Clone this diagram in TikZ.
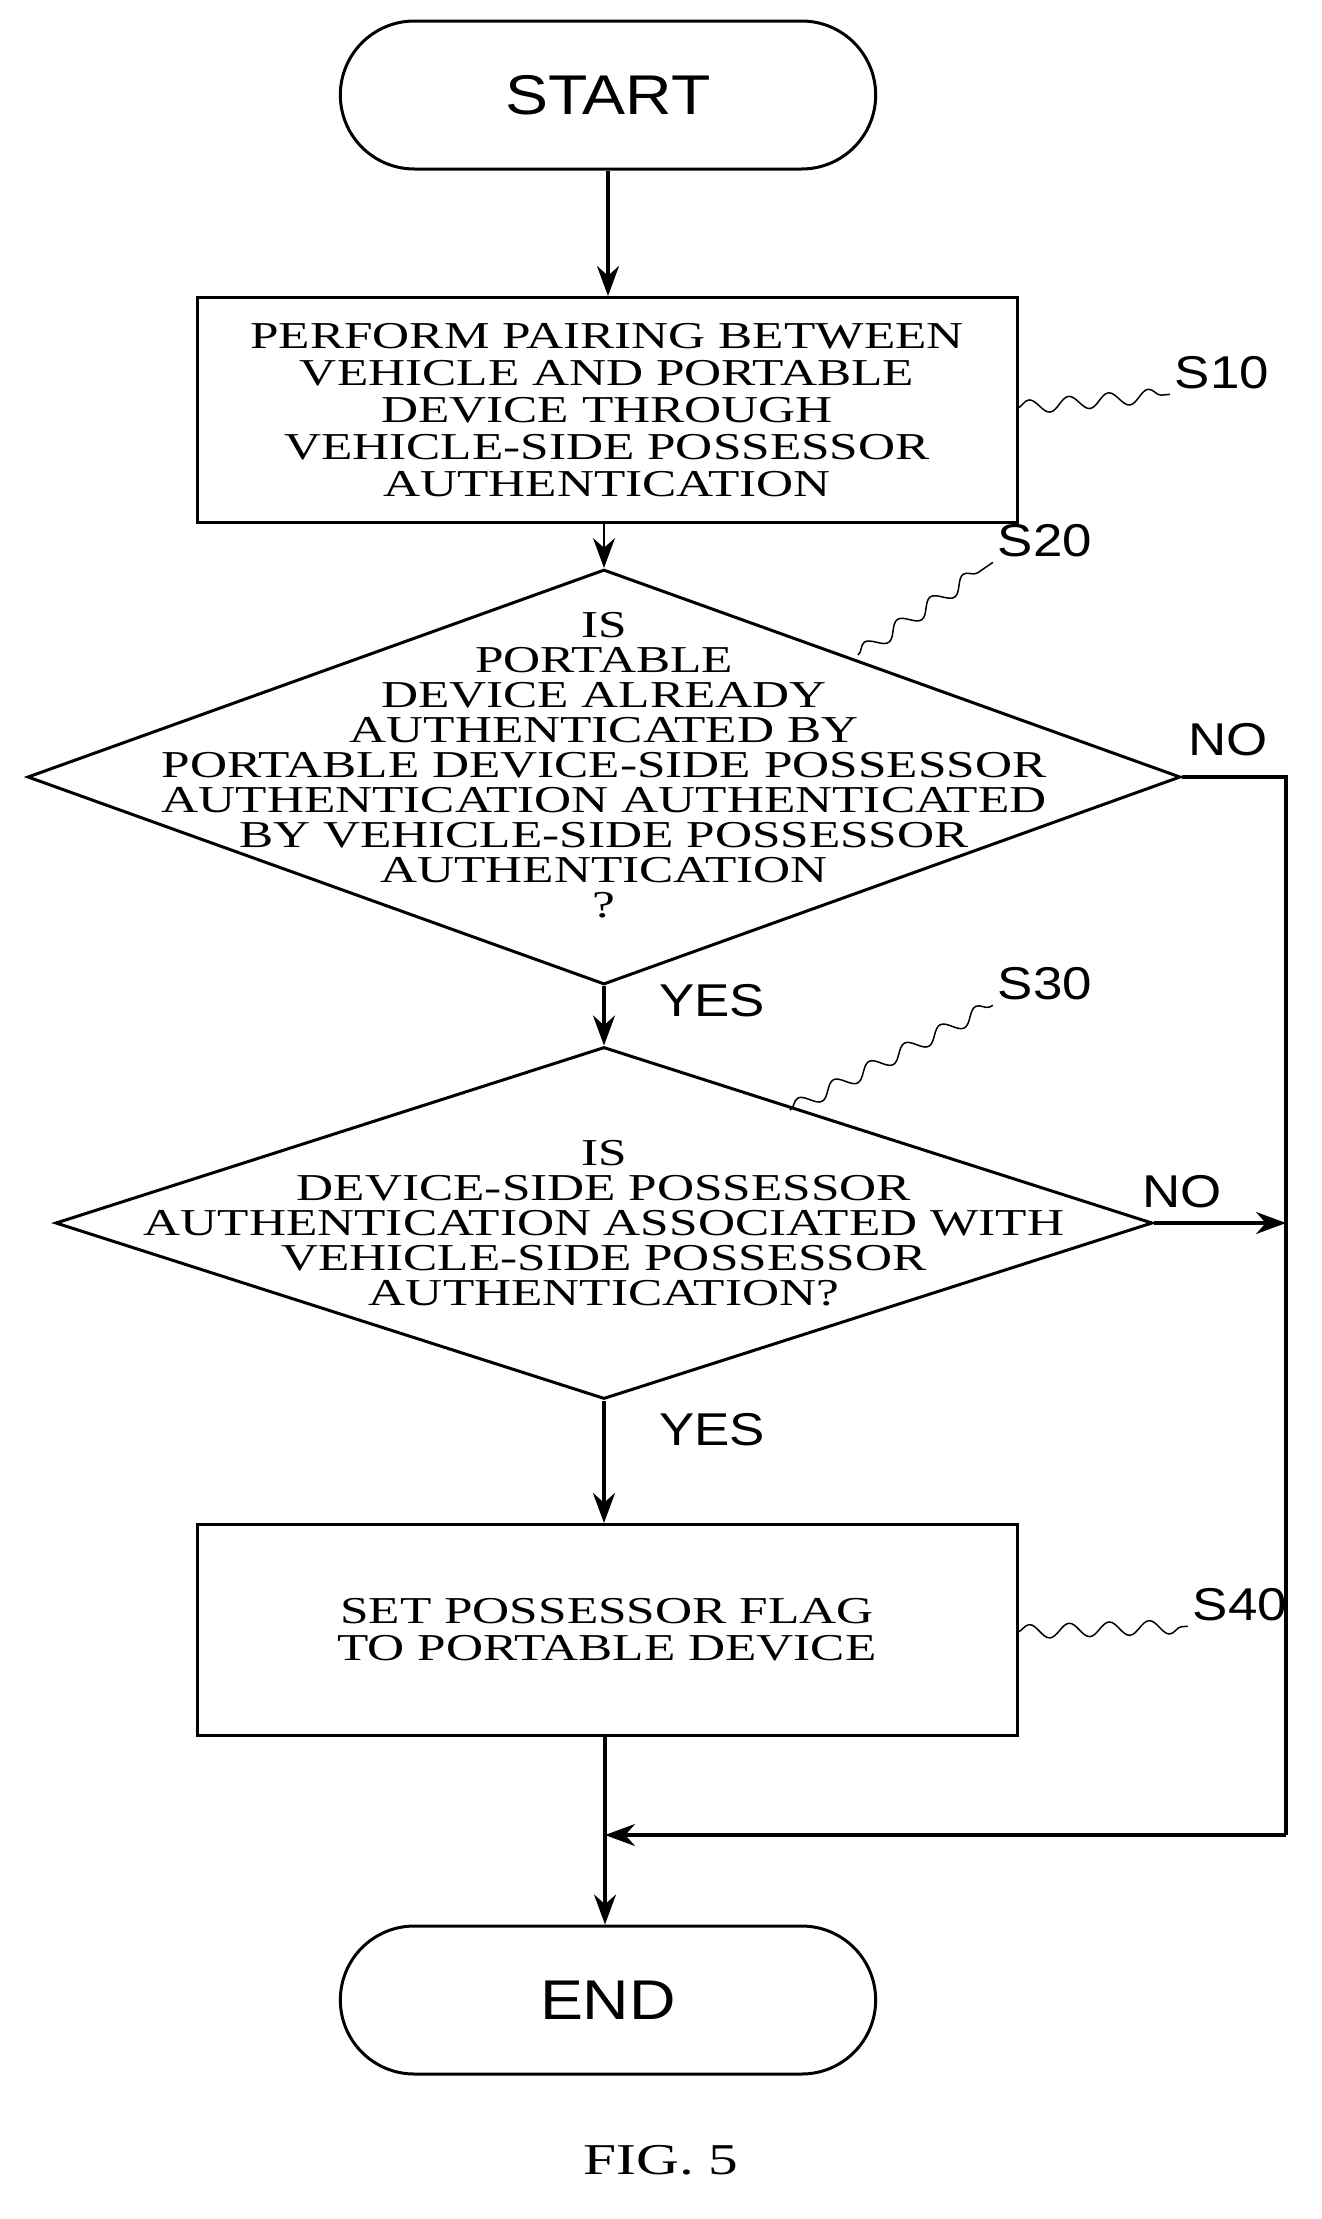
\documentclass[tikz,border=0pt]{standalone}
\usepackage{fontspec}
\setmainfont{Liberation Serif}
\setsansfont{Liberation Sans}
\newfontfamily\widefont{Liberation Serif}[FakeStretch=1.35]
\newfontfamily\widesans{Liberation Sans}[FakeStretch=1.15]
\usetikzlibrary{shapes.geometric,shapes.misc,arrows.meta,decorations.pathmorphing}
\begin{document}
\begin{tikzpicture}[x=1pt,y=-1pt,
  every path/.style={line width=3.5pt},
  term/.style={draw,rounded rectangle,minimum width=542pt,minimum height=148pt,font=\widesans\fontsize{56}{56}\selectfont,line width=3pt},
  box/.style={draw,minimum width=820pt,align=center,font=\widefont\fontsize{38}{37}\selectfont,line width=3pt},
  dia/.style={draw,diamond,inner sep=0pt,line width=3pt},
  txt/.style={align=center,font=\widefont\fontsize{38}{35}\selectfont},
  lab/.style={font=\widesans\fontsize{46}{46}\selectfont},
  arr/.style={-{Stealth[length=30pt,width=22pt]}},
  sq/.style={line width=1.5pt,decorate,decoration={snake,segment length=40pt,amplitude=7pt}}]
\useasboundingbox (0,0) rectangle (1322,2219);
\node[term] (start) at (608,95) {START};
\node[box,minimum height=225pt] (s10) at (607,410) {PERFORM PAIRING BETWEEN\\VEHICLE AND PORTABLE\\DEVICE THROUGH\\VEHICLE-SIDE POSSESSOR\\AUTHENTICATION};
\node[dia,minimum width=1153pt,minimum height=415pt] (s20) at (604,777) {};
\node[txt] (t20) at (604,765) {IS\\PORTABLE\\DEVICE ALREADY\\AUTHENTICATED BY\\PORTABLE DEVICE-SIDE POSSESSOR\\AUTHENTICATION AUTHENTICATED\\BY VEHICLE-SIDE POSSESSOR\\AUTHENTICATION\\?};
\node[dia,minimum width=1097pt,minimum height=352pt] (s30) at (604,1223) {};
\node[txt] (t30) at (604,1223) {IS\\DEVICE-SIDE POSSESSOR\\AUTHENTICATION ASSOCIATED WITH\\VEHICLE-SIDE POSSESSOR\\AUTHENTICATION?};
\node[box,minimum height=211pt] (s40) at (607,1630) {SET POSSESSOR FLAG\\TO PORTABLE DEVICE};
\node[term] (end) at (608,2000) {END};
\coordinate (j) at (605,1835);
\coordinate (r1) at (1286,777);
\coordinate (r2) at (1286,1835);
\coordinate (r3) at (1286,1223);
\draw[arr] (start.south) -- (s10.north -| start.south);
\draw[arr,line width=2pt] (s10.south -| s20.north) -- (s20.north);
\draw[arr] (s20.south) -- (s30.north);
\draw[arr] (s30.south) -- (s40.north -| s30.south);
\draw (s40.south -| j) -- (j);
\draw[arr] (j) -- (end.north -| j);
\draw (s20.east) -- (r1) -- (r2);
\draw[arr] (r2) -- (j);
\draw[arr] (s30.east) -- (r3);
\node[lab] (no1) at (1228,740) {NO};
\node[lab] (no2) at (1182,1192) {NO};
\node[lab] (y1) at (712,1001) {YES};
\node[lab] (y2) at (712,1430) {YES};
\node[lab] (l10) at (1222,373) {S10};
\node[lab] (l20) at (1045,541) {S20};
\node[lab] (l30) at (1045,984) {S30};
\node[lab] (l40) at (1240,1605) {S40};
\draw[sq] (1017,408) -- (l10.south west);
\draw[sq] (858,655) -- (l20.south west);
\draw[sq] (790,1110) -- (l30.south west);
\draw[sq] (1017,1632) -- (l40.south west);
\node[font=\widefont\fontsize{44}{44}\selectfont] (fig) at (661,2160) {FIG. 5};
\end{tikzpicture}
\end{document}
